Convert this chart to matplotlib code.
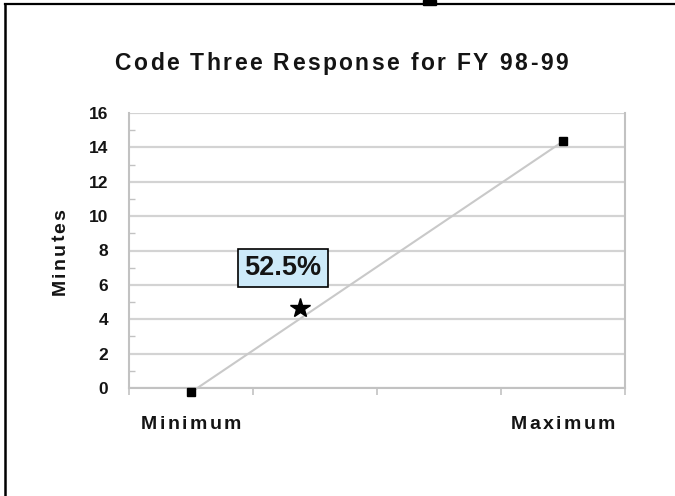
import matplotlib
matplotlib.use("Agg")
import matplotlib.pyplot as plt
from matplotlib.font_manager import FontProperties, findfont, get_font
from matplotlib.transforms import offset_copy
from matplotlib.lines import Line2D
from matplotlib.patches import Rectangle

plt.rcParams['font.family'] = ['Liberation Sans', 'DejaVu Sans']
plt.rcParams['font.weight'] = 'bold'

# Chart data
title = "Code Three Response for FY 98-99"
y_label = "Minutes"
categories = ["Minimum", "", "", "Maximum"]
point_cats = [0, 3]
point_minutes = [-0.25, 14.35]
star_cat = 0.88
star_minutes = 4.65
star_label = "52.5%"
y_ticks = list(range(0, 17, 2))

W, H = 675, 496
GRID = '#d3d3d3'
AXIS = '#c2c2c2'
INK = '#141414'


def spaced_text(fig, x, y, s, size, gap, rotation=0):
    # letter-spaced bold text, centred on (x, y) in figure coords
    fp = FontProperties(family='Liberation Sans', weight='bold', size=size)
    font = get_font(findfont(fp))
    font.set_size(size, fig.dpi)
    adv = [font.load_char(ord(c)).linearHoriAdvance / 65536 for c in s]
    total = sum(adv) + gap * (len(s) - 1)
    pos = -total / 2
    for c, a in zip(s, adv):
        mid = pos + a / 2
        dx, dy = (0, mid) if rotation else (mid, 0)
        tr = offset_copy(fig.transFigure, fig=fig, x=dx, y=dy, units='dots')
        fig.text(x, y, c, transform=tr, fontproperties=fp, color=INK,
                 ha='center', va='baseline', rotation=rotation,
                 rotation_mode='anchor')
        pos += a + gap


fig = plt.figure(figsize=(W / 100, H / 100), dpi=100)
ax = fig.add_axes([129 / W, 108 / H, 496 / W, 275 / H])

ax.set_xlim(-0.5, len(categories) - 0.5)
ax.set_ylim(0, 16)

# gridlines and axes
ax.set_yticks(y_ticks)
ax.set_yticks(range(1, 17, 2), minor=True)
ax.yaxis.grid(True, which='major', color=GRID, lw=1.6)
ax.set_axisbelow(True)
ax.set_xticks([i - 0.5 for i in range(len(categories) + 1)])
ax.set_xticklabels([])
ax.tick_params(axis='x', direction='out', length=5, width=1.2, color=AXIS)
ax.tick_params(axis='y', which='major', length=0, pad=15, labelsize=12.5,
               labelcolor=INK)
ax.tick_params(axis='y', which='minor', direction='in', length=4, width=1,
               color=AXIS)
for lab in ax.get_yticklabels():
    lab.set_fontweight('bold')
ax.spines['top'].set_visible(False)
for side in ['left', 'right', 'bottom']:
    ax.spines[side].set_color(AXIS)
    ax.spines[side].set_linewidth(1.5)

# min / max line with square markers
ax.plot(point_cats, point_minutes, color='#c9c9c9', lw=1.5, clip_on=False,
        zorder=3)
ax.plot(point_cats, point_minutes, ls='none', marker='s', ms=6, color='black',
        clip_on=False, zorder=4)

# star and its percentage box
ax.plot([star_cat], [star_minutes], marker='*', ms=15, color='black',
        ls='none', zorder=5)
ax.text(0.742, 7.0, star_label, fontsize=19.5, fontweight='bold', color=INK,
        ha='center', va='center', zorder=6,
        bbox=dict(boxstyle='square,pad=0.22', fc='#cdeaf9', ec='black',
                  lw=1.2))

# text
spaced_text(fig, 341 / W, 1 - 70 / H, title, 16.5, 2.4)
spaced_text(fig, 65 / W, 1 - 252 / H, y_label, 14, 2, rotation=90)
for i, cat in enumerate(categories):
    if cat:
        x_fig = (129 + 124 * (i + 0.5)) / W
        spaced_text(fig, x_fig, 1 - 429 / H, cat, 14, 2.5)

# outer frame
fig.add_artist(Line2D([4.5 / W, 1], [1 - 4.3 / H, 1 - 4.3 / H], color='black',
                      lw=1.6, transform=fig.transFigure))
fig.add_artist(Line2D([4.5 / W, 4.5 / W], [0, 1 - 4.3 / H], color='black',
                      lw=1.8, transform=fig.transFigure))
fig.add_artist(Rectangle((423 / W, 1 - 5 / H), 13 / W, 5 / H, color='black',
                         transform=fig.transFigure))

fig.savefig("out.png", dpi=100)
